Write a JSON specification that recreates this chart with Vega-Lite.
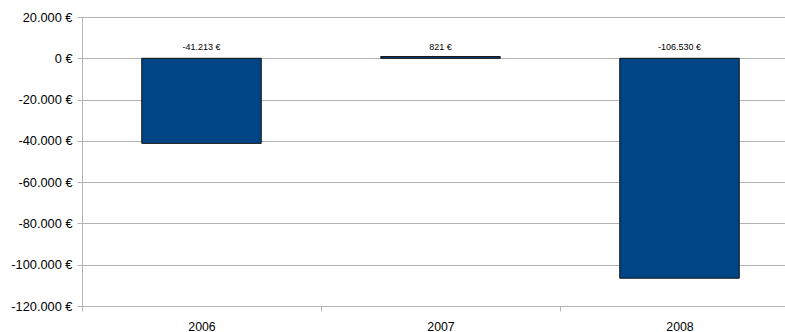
{
  "$schema": "https://vega.github.io/schema/vega-lite/v6.json",
  "autosize": "none",
  "width": 703,
  "height": 289,
  "padding": {"left": 82, "top": 17, "right": 0, "bottom": 26},
  "background": "white",
  "data": {"values": [
    {"year": "2006", "value": -41213},
    {"year": "2007", "value": 821},
    {"year": "2008", "value": -106530}
  ]},
  "encoding": {
    "x": {
      "field": "year", "type": "nominal",
      "scale": {"range": [0, 717], "paddingInner": 0, "paddingOuter": 0},
      "axis": {
        "title": null, "labelAngle": 0, "tickBand": "extent",
        "tickSize": 5, "labelPadding": 9, "labelFontSize": 12.3,
        "grid": false
      }
    }
  },
  "layer": [
    {
      "mark": {"type": "bar", "color": "#004586", "stroke": "#111111", "strokeWidth": 1, "width": {"band": 0.5}},
      "encoding": {
        "y": {
          "field": "value", "type": "quantitative",
          "scale": {"domain": [-120000, 20000], "nice": false},
          "axis": {
            "title": null,
            "values": [-120000, -100000, -80000, -60000, -40000, -20000, 0, 20000],
            "format": "$,d", "tickSize": 5, "labelPadding": 5, "labelFontSize": 12.8,
            "grid": true
          }
        }
      }
    },
    {
      "mark": {"type": "text", "baseline": "alphabetic", "dy": -8, "fontSize": 9, "color": "#000000"},
      "encoding": {
        "y": {"datum": 0, "type": "quantitative"},
        "text": {"field": "value", "type": "quantitative", "format": "$,d"}
      }
    }
  ],
  "config": {
    "locale": {
      "number": {"decimal": ",", "thousands": ".", "grouping": [3], "currency": ["", " €"], "minus": "-"}
    },
    "font": "Liberation Sans",
    "view": {"stroke": null},
    "axis": {
      "domainColor": "#b3b3b3", "tickColor": "#b3b3b3", "gridColor": "#b3b3b3",
      "labelColor": "#000000", "labelFont": "Liberation Sans"
    }
  }
}
